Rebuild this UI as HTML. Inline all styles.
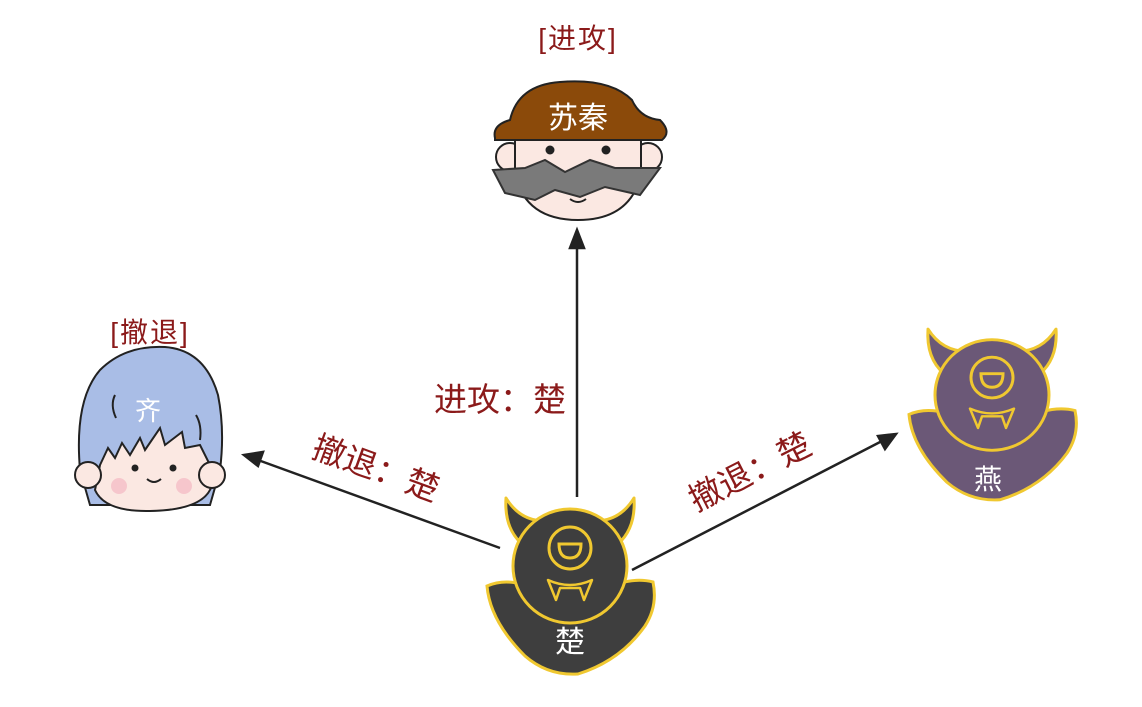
<!DOCTYPE html>
<html><head><meta charset="utf-8"><style>
body{margin:0;background:#fff;}
svg{display:block;}
text{font-family:"Liberation Sans","Noto Sans CJK SC",sans-serif;}
</style></head><body>
<svg width="1142" height="707" viewBox="0 0 1142 707" xmlns="http://www.w3.org/2000/svg">
<defs>
<g id="demon">
  <path d="M-48,-22 Q-66,-38 -64,-68 Q-50,-45 -25,-45 Z" stroke="#f0c830" stroke-width="3" stroke-linejoin="round"/>
  <path d="M48,-22 Q66,-38 64,-68 Q50,-45 25,-45 Z" stroke="#f0c830" stroke-width="3" stroke-linejoin="round"/>
  <path d="M-83,20 Q-60,10 -30,25 L30,25 Q60,10 83,16 Q88,40 75,60 Q50,95 8,108 Q-22,110 -45,90 Q-80,55 -83,20 Z" stroke="#f0c830" stroke-width="3"/>
  <circle cx="0" cy="0" r="57" stroke="#f0c830" stroke-width="3"/>
  <circle cx="0" cy="-18" r="21" fill="none" stroke="#f0c830" stroke-width="3"/>
  <path d="M-11,-22 L11,-22 Q11,-8 0,-8 Q-11,-8 -11,-22 Z" fill="none" stroke="#f0c830" stroke-width="3"/>
  <path d="M-22,14 Q0,24 22,14 L14,34 L10,22 L-10,22 L-14,34 Z" fill="none" stroke="#f0c830" stroke-width="2.5" stroke-linejoin="round"/>
</g>
</defs>

<g stroke="#222" stroke-width="2.5" fill="#222">
  <line x1="577" y1="497" x2="577" y2="245"/>
  <path d="M577,230 L570,248 L584,248 Z"/>
  <line x1="500" y1="548" x2="258" y2="460"/>
  <path d="M244,455 L263,452 L258,466 Z"/>
  <line x1="632" y1="570" x2="882" y2="441"/>
  <path d="M896,434 L885,449 L878,436 Z"/>
</g>

<g fill="#8b1a1a" font-size="28" letter-spacing="2">
  <text x="578" y="48" text-anchor="middle">[进攻]</text>
  <text x="150" y="342" text-anchor="middle">[撤退]</text>
</g>
<g fill="#8b1a1a" font-size="33">
  <text x="500" y="411" text-anchor="middle">进攻：楚</text>
  <text transform="translate(372,479) rotate(20)" text-anchor="middle">撤退：楚</text>
  <text transform="translate(755,482) rotate(-27)" text-anchor="middle">撤退：楚</text>
</g>

<!-- Su Qin -->
<g stroke="#222" stroke-width="2">
  <ellipse cx="510" cy="157" rx="14" ry="14" fill="#fbe8e2"/>
  <ellipse cx="648" cy="157" rx="14" ry="14" fill="#fbe8e2"/>
  <path d="M515,130 L641,130 L641,175 Q630,220 578,220 Q526,220 515,175 Z" fill="#fbe8e2"/>
  <path d="M493,170 L525,168 L545,160 L565,172 L590,160 L615,168 L660,168 L640,195 L605,187 L580,197 L555,190 L535,200 L505,193 Z" fill="#7a7a7a" stroke="#333"/>
  <path d="M495,138 Q492,125 510,120 Q518,85 560,82 Q610,78 632,100 Q640,118 660,120 Q672,132 662,140 L495,140 Z" fill="#8b4a0a"/>
  <circle cx="550" cy="150" r="4.5" fill="#222" stroke="none"/>
  <circle cx="606" cy="150" r="4.5" fill="#222" stroke="none"/>
  <path d="M570,199 Q578,205 586,199" fill="none"/>
</g>
<text x="578" y="128" text-anchor="middle" font-size="30" fill="#fff">苏秦</text>

<!-- Qi -->
<g stroke="#222" stroke-width="2">
  <path d="M90,505 L80,470 Q74,400 100,370 Q125,345 165,347 Q205,350 218,395 Q225,430 220,470 L210,505 Z" fill="#a9bde6"/>
  <path d="M100,465 L108,448 L115,458 L122,443 L130,455 L140,438 L145,450 L160,428 L165,445 L182,432 L185,448 L200,445 L210,465 L212,485 Q205,510 150,511 Q105,512 95,490 Z" fill="#fbe8e2"/>
  <circle cx="88" cy="475" r="13" fill="#fbe8e2"/>
  <circle cx="212" cy="475" r="13" fill="#fbe8e2"/>
  <path d="M115,395 Q110,405 116,418" fill="none"/>
  <path d="M196,415 Q202,425 200,440" fill="none"/>
  <circle cx="135" cy="468" r="3.5" fill="#222" stroke="none"/>
  <circle cx="173" cy="468" r="3.5" fill="#222" stroke="none"/>
  <path d="M147,479 Q154,485 161,479" fill="none"/>
</g>
<circle cx="119" cy="486" r="8" fill="#f6c6cc"/>
<circle cx="184" cy="486" r="8" fill="#f6c6cc"/>
<text x="148" y="420" text-anchor="middle" font-size="26" fill="#fff">齐</text>

<use href="#demon" transform="translate(570,566)" fill="#3e3e3e"/>
<text x="570" y="652" text-anchor="middle" font-size="30" fill="#fff">楚</text>

<use href="#demon" transform="translate(992,395) scale(1,0.97)" fill="#6b5877"/>
<text x="988" y="489" text-anchor="middle" font-size="28" fill="#fff">燕</text>
</svg>
</body></html>
